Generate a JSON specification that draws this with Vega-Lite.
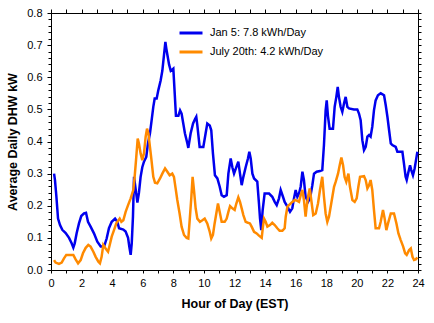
{
  "$schema": "https://vega.github.io/schema/vega-lite/v6.json",
  "width": 367,
  "height": 257,
  "autosize": {"type": "none"},
  "padding": {"left": 51, "top": 13, "right": 16, "bottom": 53},
  "background": "white",
  "config": {
    "view": {"stroke": "black", "strokeWidth": 1},
    "font": "Liberation Sans",
    "axis": {"grid": false, "domainColor": "black", "tickColor": "black", "labelColor": "black", "titleColor": "black", "labelFont": "Liberation Sans", "titleFont": "Liberation Sans"}
  },
  "datasets": {
    "jan": [
      [0.2,0.30],[0.26,0.28],[0.35,0.23],[0.46,0.16],[0.59,0.14],[0.74,0.125],[0.96,0.115],[1.18,0.10],[1.35,0.083],[1.46,0.07],[1.55,0.083],[1.68,0.115],[1.83,0.145],[1.98,0.168],[2.16,0.176],[2.29,0.178],[2.42,0.15],[2.59,0.135],[2.81,0.114],[3.03,0.088],[3.25,0.073],[3.47,0.073],[3.64,0.098],[3.79,0.13],[3.97,0.15],[4.19,0.16],[4.34,0.15],[4.45,0.13],[4.73,0.126],[4.88,0.12],[5.04,0.10],[5.12,0.073],[5.21,0.047],[5.28,0.083],[5.36,0.166],[5.43,0.29],[5.54,0.25],[5.65,0.21],[5.75,0.24],[5.86,0.29],[5.97,0.32],[6.08,0.337],[6.23,0.352],[6.34,0.394],[6.47,0.425],[6.58,0.466],[6.69,0.508],[6.78,0.534],[6.91,0.534],[7.02,0.56],[7.17,0.59],[7.28,0.62],[7.39,0.67],[7.48,0.71],[7.54,0.69],[7.61,0.67],[7.72,0.64],[7.83,0.62],[8.0,0.627],[8.09,0.55],[8.17,0.48],[8.33,0.48],[8.44,0.497],[8.54,0.487],[8.65,0.456],[8.76,0.425],[8.92,0.394],[8.98,0.38],[9.13,0.425],[9.29,0.456],[9.42,0.47],[9.5,0.477],[9.57,0.45],[9.72,0.383],[9.96,0.383],[10.11,0.425],[10.22,0.456],[10.38,0.45],[10.48,0.435],[10.59,0.363],[10.72,0.295],[10.88,0.285],[11.03,0.26],[11.16,0.233],[11.31,0.228],[11.49,0.233],[11.6,0.30],[11.75,0.347],[11.86,0.32],[11.97,0.30],[12.12,0.32],[12.25,0.337],[12.36,0.30],[12.47,0.264],[12.58,0.29],[12.73,0.32],[12.88,0.347],[12.97,0.368],[13.06,0.347],[13.17,0.30],[13.28,0.285],[13.49,0.275],[13.6,0.207],[13.67,0.16],[13.75,0.124],[13.84,0.186],[13.97,0.238],[14.26,0.238],[14.47,0.228],[14.63,0.212],[14.76,0.202],[14.91,0.223],[15.02,0.249],[15.17,0.228],[15.28,0.212],[15.46,0.197],[15.63,0.181],[15.78,0.192],[15.89,0.223],[16.0,0.249],[16.11,0.228],[16.22,0.238],[16.33,0.26],[16.44,0.306],[16.54,0.28],[16.65,0.228],[16.81,0.212],[16.94,0.223],[17.09,0.264],[17.2,0.30],[17.37,0.306],[17.59,0.308],[17.74,0.311],[17.85,0.389],[17.96,0.497],[18.03,0.528],[18.11,0.48],[18.22,0.44],[18.44,0.44],[18.55,0.508],[18.66,0.539],[18.75,0.57],[18.83,0.539],[18.94,0.508],[19.05,0.492],[19.16,0.518],[19.27,0.539],[19.38,0.508],[19.49,0.503],[19.81,0.5],[20.03,0.5],[20.14,0.487],[20.25,0.466],[20.36,0.404],[20.47,0.373],[20.58,0.383],[20.69,0.415],[20.8,0.42],[20.9,0.415],[21.01,0.446],[21.12,0.497],[21.23,0.528],[21.38,0.544],[21.56,0.55],[21.78,0.544],[21.89,0.513],[22.0,0.477],[22.11,0.435],[22.22,0.394],[22.32,0.389],[22.54,0.383],[22.65,0.368],[22.98,0.368],[23.08,0.332],[23.19,0.29],[23.26,0.28],[23.35,0.30],[23.48,0.326],[23.56,0.311],[23.67,0.295],[23.78,0.316],[23.87,0.342],[23.96,0.368]
    ],
    "jul": [
      [0.2,0.031],[0.3,0.023],[0.52,0.019],[0.7,0.023],[0.85,0.036],[1.0,0.047],[1.29,0.047],[1.46,0.047],[1.61,0.033],[1.77,0.021],[1.94,0.031],[2.09,0.052],[2.27,0.069],[2.44,0.078],[2.59,0.073],[2.77,0.057],[2.92,0.041],[3.1,0.026],[3.2,0.021],[3.31,0.041],[3.42,0.078],[3.57,0.067],[3.73,0.057],[3.84,0.078],[3.97,0.104],[4.12,0.124],[4.27,0.145],[4.38,0.153],[4.49,0.16],[4.6,0.15],[4.73,0.155],[4.88,0.181],[5.04,0.202],[5.21,0.223],[5.38,0.249],[5.47,0.29],[5.56,0.342],[5.67,0.409],[5.75,0.394],[5.86,0.363],[5.97,0.342],[6.08,0.363],[6.19,0.415],[6.28,0.44],[6.37,0.425],[6.47,0.383],[6.56,0.347],[6.69,0.29],[6.8,0.272],[6.95,0.27],[7.13,0.285],[7.28,0.30],[7.46,0.316],[7.61,0.306],[7.76,0.295],[7.93,0.30],[8.04,0.29],[8.15,0.254],[8.26,0.218],[8.41,0.176],[8.54,0.135],[8.7,0.109],[8.87,0.10],[8.98,0.098],[9.07,0.155],[9.18,0.228],[9.26,0.29],[9.35,0.249],[9.46,0.192],[9.57,0.16],[9.74,0.15],[9.9,0.155],[10.05,0.16],[10.22,0.145],[10.38,0.119],[10.48,0.098],[10.59,0.109],[10.7,0.145],[10.81,0.176],[10.92,0.207],[11.03,0.181],[11.16,0.15],[11.36,0.15],[11.49,0.16],[11.6,0.181],[11.71,0.199],[11.86,0.192],[12.01,0.187],[12.12,0.207],[12.25,0.226],[12.36,0.212],[12.47,0.192],[12.58,0.171],[12.73,0.15],[12.88,0.147],[13.01,0.145],[13.12,0.135],[13.28,0.119],[13.45,0.114],[13.6,0.107],[13.78,0.10],[13.86,0.135],[13.93,0.16],[14.04,0.15],[14.15,0.135],[14.32,0.14],[14.47,0.147],[14.63,0.14],[14.8,0.13],[14.95,0.122],[15.13,0.122],[15.28,0.13],[15.35,0.166],[15.46,0.197],[15.63,0.205],[15.78,0.212],[15.94,0.218],[16.11,0.215],[16.22,0.212],[16.33,0.233],[16.44,0.249],[16.54,0.218],[16.65,0.166],[16.72,0.197],[16.81,0.228],[16.92,0.254],[17.02,0.218],[17.15,0.171],[17.31,0.176],[17.46,0.207],[17.59,0.249],[17.74,0.29],[17.85,0.228],[17.96,0.176],[18.07,0.15],[18.18,0.166],[18.29,0.197],[18.4,0.228],[18.51,0.259],[18.62,0.275],[18.77,0.30],[18.88,0.326],[18.99,0.35],[19.1,0.326],[19.2,0.29],[19.31,0.275],[19.45,0.30],[19.55,0.259],[19.71,0.218],[19.86,0.212],[19.99,0.223],[20.1,0.259],[20.21,0.29],[20.47,0.292],[20.58,0.28],[20.69,0.254],[20.8,0.264],[20.9,0.28],[21.01,0.249],[21.12,0.187],[21.23,0.13],[21.45,0.13],[21.56,0.15],[21.71,0.187],[21.82,0.16],[21.93,0.124],[22.04,0.145],[22.22,0.176],[22.43,0.176],[22.59,0.145],[22.72,0.114],[22.87,0.093],[23.03,0.073],[23.16,0.052],[23.26,0.047],[23.42,0.062],[23.53,0.067],[23.64,0.041],[23.74,0.031],[23.85,0.033],[23.96,0.039]
    ]
  },
  "layer": [
    {
      "data": {"name": "jan"},
      "transform": [
        {"calculate": "datum[0]", "as": "hour"},
        {"calculate": "datum[1]", "as": "kw"},
        {"calculate": "'Jan'", "as": "series"}
      ],
      "mark": {"type": "line", "strokeWidth": 2.5, "interpolate": "linear"},
      "encoding": {
        "x": {"field": "hour", "type": "quantitative", "scale": {"domain": [0, 24], "nice": false},
          "axis": {"orient": "bottom", "title": "Hour of Day (EST)", "titleFontSize": 12.5, "titleFontWeight": "bold", "titlePadding": 9,
            "values": [0,1,2,3,4,5,6,7,8,9,10,11,12,13,14,15,16,17,18,19,20,21,22,23,24],
            "labelExpr": "datum.value % 2 == 0 ? datum.label : ''", "labelFontSize": 11, "labelPadding": 4, "tickSize": 3, "labelOverlap": false, "labelFlush": false}},
        "y": {"field": "kw", "type": "quantitative", "scale": {"domain": [0, 0.8], "nice": false},
          "axis": {"orient": "left", "title": "Average Daily DHW kW", "titleFontSize": 12.5, "titleFontWeight": "bold", "titlePadding": 7,
            "values": [0,0.02,0.04,0.06,0.08,0.1,0.12,0.14,0.16,0.18,0.2,0.22,0.24,0.26,0.28,0.3,0.32,0.34,0.36,0.38,0.4,0.42,0.44,0.46,0.48,0.5,0.52,0.54,0.56,0.58,0.6,0.62,0.64,0.66,0.68,0.7,0.72,0.74,0.76,0.78,0.8],
            "labelExpr": "abs(datum.value*10 - round(datum.value*10)) < 0.001 ? format(datum.value, '.1f') : ''",
            "labelFontSize": 11, "labelPadding": 5, "labelOverlap": false, "labelFlush": false,
            "tickSize": {"condition": {"test": "abs(datum.value*10 - round(datum.value*10)) < 0.001", "value": 4}, "value": 3}}},
        "color": {"field": "series", "type": "nominal",
          "scale": {"domain": ["Jan", "Jul"], "range": ["#0000ee", "#ff8a00"]},
          "legend": {"orient": "none", "legendX": 127, "legendY": 7, "title": null, "symbolType": "stroke", "symbolSize": 529, "symbolStrokeWidth": 3,
            "labelExpr": "datum.label == 'Jan' ? 'Jan 5: 7.8 kWh/Day' : 'July 20th: 4.2 kWh/Day'", "labelFontSize": 11, "labelColor": "black", "rowPadding": -12, "padding": 0, "labelOffset": 6}}
      }
    },
    {
      "data": {"name": "jul"},
      "transform": [
        {"calculate": "datum[0]", "as": "hour"},
        {"calculate": "datum[1]", "as": "kw"},
        {"calculate": "'Jul'", "as": "series"}
      ],
      "mark": {"type": "line", "strokeWidth": 2.5, "interpolate": "linear"},
      "encoding": {
        "x": {"field": "hour", "type": "quantitative",
          "axis": {"orient": "top", "title": null, "labelExpr": "''", "labelPadding": 0, "tickSize": 4, "labelOverlap": false,
            "values": [0,1,2,3,4,5,6,7,8,9,10,11,12,13,14,15,16,17,18,19,20,21,22,23,24]}},
        "y": {"field": "kw", "type": "quantitative",
          "axis": {"orient": "right", "title": null, "labelExpr": "''", "labelPadding": 0, "tickSize": 3, "labelOverlap": false,
            "values": [0,0.02,0.04,0.06,0.08,0.1,0.12,0.14,0.16,0.18,0.2,0.22,0.24,0.26,0.28,0.3,0.32,0.34,0.36,0.38,0.4,0.42,0.44,0.46,0.48,0.5,0.52,0.54,0.56,0.58,0.6,0.62,0.64,0.66,0.68,0.7,0.72,0.74,0.76,0.78,0.8]}},
        "color": {"field": "series", "type": "nominal"}
      }
    }
  ],
  "resolve": {"axis": {"x": "independent", "y": "independent"}}
}
